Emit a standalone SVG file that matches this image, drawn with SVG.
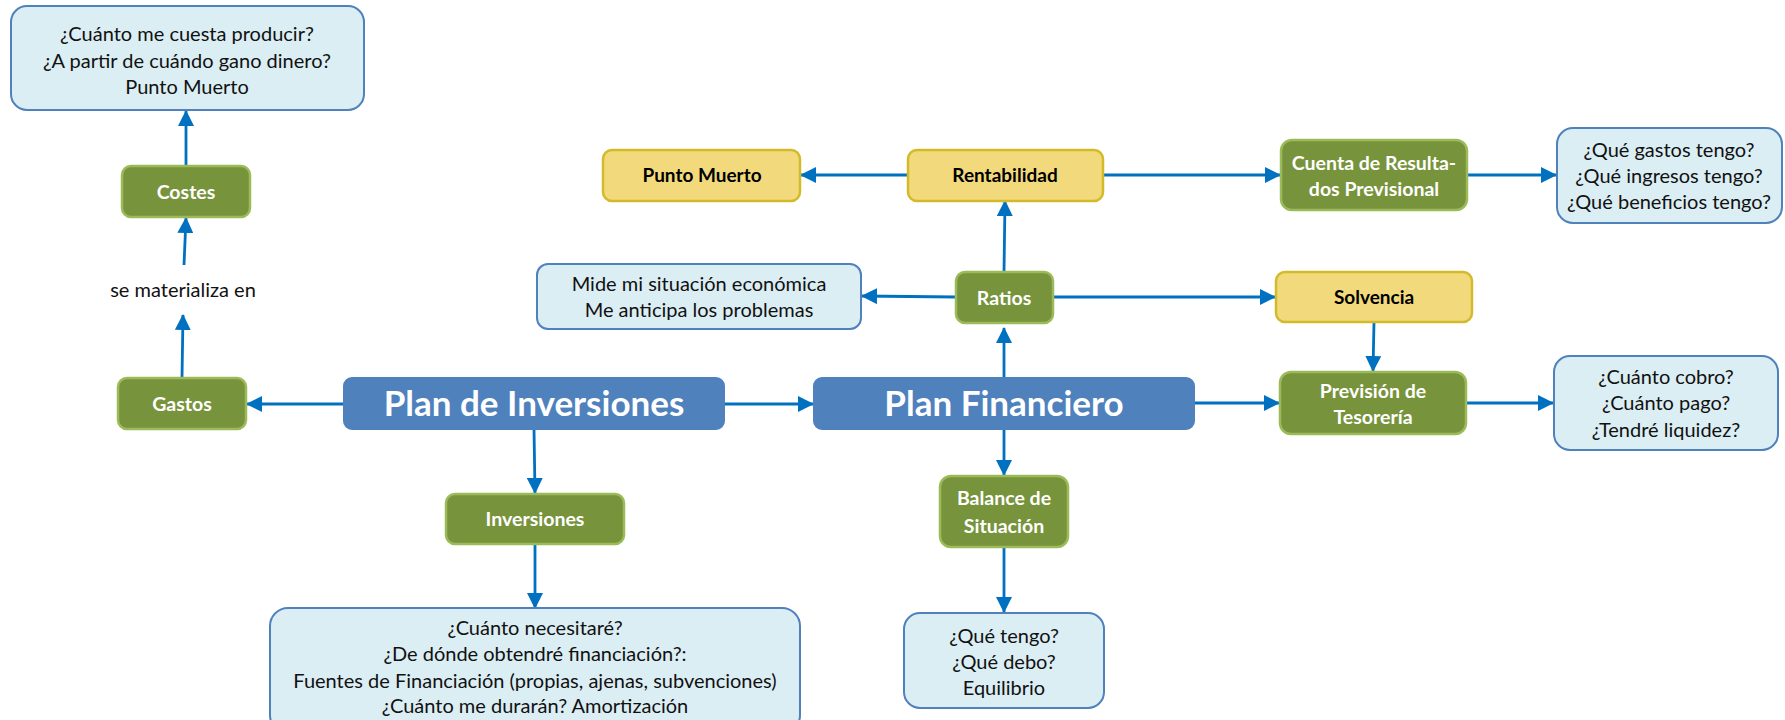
<svg xmlns="http://www.w3.org/2000/svg" width="1785" height="720" viewBox="0 0 1785 720">
<style>
.main rect{fill:#4F81BD;stroke:#4F81BD;stroke-width:2}
.main text{font-family:Lato,"Liberation Sans",sans-serif;font-weight:bold;font-size:35px;fill:#fff;text-anchor:middle}
.green rect{fill:#77933C;stroke:#9BBB59;stroke-width:2.5}
.green text{font-family:Lato,"Liberation Sans",sans-serif;font-weight:bold;font-size:19.5px;fill:#fff;text-anchor:middle}
.yellow rect{fill:#F2DA7C;stroke:#D2BA2A;stroke-width:2.5}
.yellow text{font-family:Lato,"Liberation Sans",sans-serif;font-weight:bold;font-size:19px;fill:#000;text-anchor:middle}
.info rect{fill:#DBEEF4;stroke:#4F81BD;stroke-width:2}
.info text, text.plain{font-family:Lato,"Liberation Sans",sans-serif;font-size:20px;fill:#111;text-anchor:middle}
#connectors line{stroke:#0070C0;stroke-width:2.8;marker-end:url(#ah)}
</style>
<defs>
<marker id="ah" markerUnits="userSpaceOnUse" markerWidth="16" markerHeight="16" viewBox="0 0 16 16" refX="15" refY="8" orient="auto">
<path d="M0,0 L16,8 L0,16 z" fill="#0070C0"/>
</marker>
</defs>
<rect width="1785" height="720" fill="#fff"/>

<g id="connectors">
<line x1="186" y1="166" x2="186" y2="111"/>
<line x1="184" y1="265" x2="186" y2="218"/>
<line x1="182" y1="378" x2="183" y2="315"/>
<line x1="344" y1="404" x2="247" y2="404"/>
<line x1="724" y1="404" x2="813" y2="404"/>
<line x1="534" y1="429" x2="535" y2="493"/>
<line x1="535" y1="543" x2="535" y2="608"/>
<line x1="1004" y1="378" x2="1004" y2="328"/>
<line x1="1004" y1="272" x2="1005" y2="201"/>
<line x1="908" y1="175" x2="801" y2="175"/>
<line x1="1103" y1="175" x2="1280" y2="175"/>
<line x1="1467" y1="175" x2="1556" y2="175"/>
<line x1="956" y1="297" x2="862" y2="296"/>
<line x1="1053" y1="297" x2="1275" y2="297"/>
<line x1="1374" y1="322" x2="1373" y2="371"/>
<line x1="1194" y1="403" x2="1279" y2="403"/>
<line x1="1466" y1="403" x2="1553" y2="403"/>
<line x1="1004" y1="429" x2="1004" y2="475"/>
<line x1="1004" y1="547" x2="1004" y2="612"/>
</g>

<g id="costes-info" class="info">
<rect x="11" y="6" width="353" height="104" rx="16"/>
<text x="187" y="41">¿Cuánto me cuesta producir?</text>
<text x="187" y="68">¿A partir de cuándo gano dinero?</text>
<text x="187" y="94">Punto Muerto</text>
</g>
<g id="costes" class="green">
<rect x="122" y="166" width="128" height="51" rx="9"/>
<text x="186" y="199">Costes</text>
</g>
<g id="se-materializa">
<text class="plain" x="183" y="297">se materializa en</text>
</g>
<g id="gastos" class="green">
<rect x="118" y="378" width="128" height="51" rx="9"/>
<text x="182" y="411">Gastos</text>
</g>
<g id="plan-inversiones" class="main">
<rect x="344" y="378" width="380" height="51" rx="8"/>
<text x="534" y="416">Plan de Inversiones</text>
</g>
<g id="inversiones" class="green">
<rect x="446" y="494" width="178" height="50" rx="9"/>
<text x="535" y="526">Inversiones</text>
</g>
<g id="inversiones-info" class="info">
<rect x="270" y="608" width="530" height="125" rx="18"/>
<text x="535" y="635">¿Cuánto necesitaré?</text>
<text x="535" y="661">¿De dónde obtendré financiación?:</text>
<text x="535" y="688">Fuentes de Financiación (propias, ajenas, subvenciones)</text>
<text x="535" y="713">¿Cuánto me durarán? Amortización</text>
</g>
<g id="plan-financiero" class="main">
<rect x="814" y="378" width="380" height="51" rx="8"/>
<text x="1004" y="416">Plan Financiero</text>
</g>
<g id="punto-muerto" class="yellow">
<rect x="603" y="150" width="197" height="51" rx="9"/>
<text x="702" y="182">Punto Muerto</text>
</g>
<g id="rentabilidad" class="yellow">
<rect x="908" y="150" width="195" height="51" rx="9"/>
<text x="1005" y="182">Rentabilidad</text>
</g>
<g id="cuenta-resultados" class="green">
<rect x="1281" y="140" width="186" height="70" rx="11"/>
<text x="1374" y="170">Cuenta de Resulta-</text>
<text x="1374" y="196">dos Previsional</text>
</g>
<g id="cuenta-info" class="info">
<rect x="1557" y="128" width="225" height="95" rx="16"/>
<text x="1669" y="157">¿Qué gastos tengo?</text>
<text x="1669" y="183">¿Qué ingresos tengo?</text>
<text x="1669" y="209">¿Qué beneficios tengo?</text>
</g>
<g id="ratios-info" class="info">
<rect x="537" y="264" width="324" height="65" rx="11"/>
<text x="699" y="291">Mide mi situación económica</text>
<text x="699" y="317">Me anticipa los problemas</text>
</g>
<g id="ratios" class="green">
<rect x="956" y="272" width="97" height="51" rx="9"/>
<text x="1004" y="305">Ratios</text>
</g>
<g id="solvencia" class="yellow">
<rect x="1276" y="272" width="196" height="50" rx="9"/>
<text x="1374" y="304">Solvencia</text>
</g>
<g id="prevision-tesoreria" class="green">
<rect x="1280" y="372" width="186" height="62" rx="11"/>
<text x="1373" y="398">Previsión de</text>
<text x="1373" y="424">Tesorería</text>
</g>
<g id="tesoreria-info" class="info">
<rect x="1554" y="356" width="224" height="94" rx="16"/>
<text x="1666" y="384">¿Cuánto cobro?</text>
<text x="1666" y="410">¿Cuánto pago?</text>
<text x="1666" y="437">¿Tendré liquidez?</text>
</g>
<g id="balance" class="green">
<rect x="940" y="476" width="128" height="71" rx="11"/>
<text x="1004" y="505">Balance de</text>
<text x="1004" y="533">Situación</text>
</g>
<g id="balance-info" class="info">
<rect x="904" y="613" width="200" height="95" rx="16"/>
<text x="1004" y="643">¿Qué tengo?</text>
<text x="1004" y="669">¿Qué debo?</text>
<text x="1004" y="695">Equilibrio</text>
</g>
</svg>
